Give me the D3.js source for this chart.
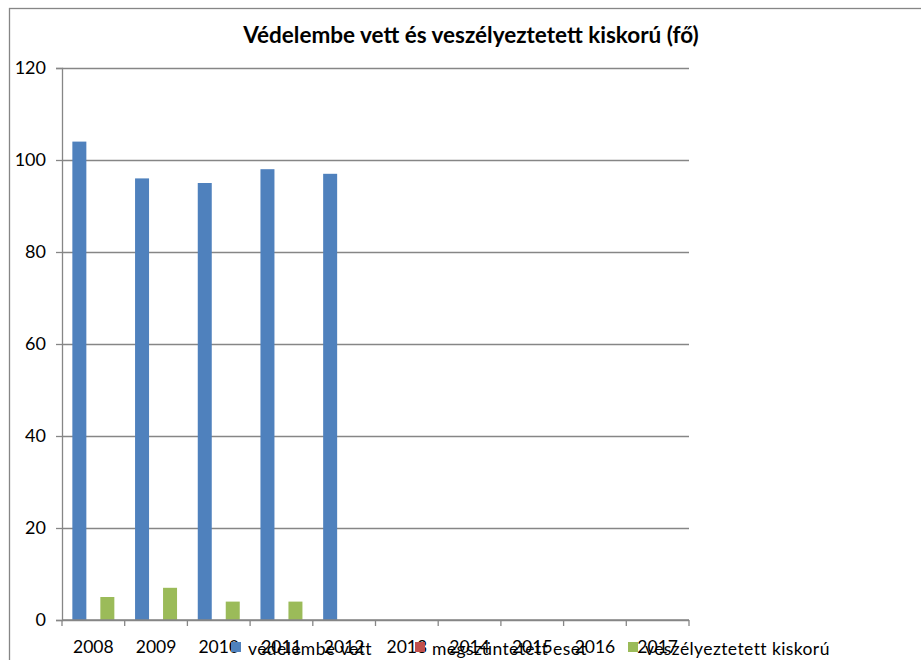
<!DOCTYPE html>
<html>
<head>
<meta charset="utf-8">
<script src="https://cdn.jsdelivr.net/npm/d3@7"></script>
<style>
  body { margin: 0; background: #fff; }
  text { font-family: Lato, "Open Sans", sans-serif; fill: #000; }
  .grid line { stroke: #868686; stroke-width: 1.3; }
  .axis path, .axis line { stroke: #868686; stroke-width: 1.3; }
</style>
</head>
<body>
<div id="chart"></div>
<script>
const years = ["2008","2009","2010","2011","2012","2013","2014","2015","2016","2017"];
const seriesNames = ["védelembe vett", "megszüntetett eset", "veszélyeztetett kiskorú"];
const vedelembe = [104, 96, 95, 98, 97, null, null, null, null, null];
const megszuntetett = [0, 0, 0, 0, 0, null, null, null, null, null];
const veszelyeztetett = [5, 7, 4, 4, null, null, null, null, null, null];
const colors = ["#4f81bd", "#c0504d", "#9bbb59"];
const yTicks = [0, 20, 40, 60, 80, 100, 120];

const svgWidth = 921, svgHeight = 660;
const margin = {top: 68, right: 232, bottom: 40, left: 62};
const width = svgWidth - margin.left - margin.right;
const height = svgHeight - margin.top - margin.bottom;

const svg = d3.select("#chart").append("svg")
    .attr("width", svgWidth)
    .attr("height", svgHeight);

// outer chart border
svg.append("rect")
    .attr("x", 9.5).attr("y", 8.5)
    .attr("width", 930).attr("height", 680)
    .attr("fill", "none")
    .attr("stroke", "#868686")
    .attr("stroke-width", 1.3);

svg.append("text")
    .attr("x", 471).attr("y", 43)
    .attr("text-anchor", "middle")
    .attr("font-size", 22.5)
    .attr("font-weight", "bold")
    .text("Védelembe vett és veszélyeztetett kiskorú (fő)");

const g = svg.append("g")
    .attr("transform", "translate(" + margin.left + "," + margin.top + ")");

const x = d3.scaleBand().domain(years).range([0, width]);
const xSub = d3.scaleBand().domain(d3.range(3)).range([0, x.bandwidth()]).paddingOuter(0.74);
const y = d3.scaleLinear().domain([0, 120]).range([height, 0]);

// gridlines
g.append("g").attr("class", "grid")
    .call(d3.axisLeft(y).tickValues(yTicks).tickSize(-width).tickFormat(""))
    .call(s => s.select(".domain").remove());

// bars
const data = [vedelembe, megszuntetett, veszelyeztetett];
data.forEach((vals, si) => {
  g.append("g").selectAll("rect")
    .data(years.map((yr, i) => ({yr: yr, v: vals[i]})).filter(d => d.v != null && d.v > 0))
    .join("rect")
      .attr("x", d => x(d.yr) + xSub(si))
      .attr("width", xSub.bandwidth())
      .attr("y", d => y(d.v))
      .attr("height", d => y(0) - y(d.v))
      .attr("fill", colors[si]);
});

// y axis
const yAxis = g.append("g").attr("class", "axis")
    .call(d3.axisLeft(y).tickValues(yTicks).tickSize(6).tickPadding(10));
yAxis.selectAll("text").attr("font-size", 18);

// x axis
const xAxis = g.append("g").attr("class", "axis")
    .attr("transform", "translate(0," + height + ")")
    .call(d3.axisBottom(x).tickSize(0).tickPadding(21));
xAxis.select(".domain").attr("d", "M0,0H" + width);
xAxis.selectAll("text").attr("font-size", 17.5);
xAxis.append("g").selectAll("line")
    .data(years.concat([null]))
    .join("line")
      .attr("x1", (d, i) => i * x.step())
      .attr("x2", (d, i) => i * x.step())
      .attr("y1", 0).attr("y2", 6)
      .attr("stroke", "#868686").attr("stroke-width", 1.3);

// legend
const legendX = [231, 415, 628];
const legend = svg.append("g");
seriesNames.forEach((name, i) => {
  legend.append("rect")
      .attr("x", legendX[i]).attr("y", 642)
      .attr("width", 10).attr("height", 10)
      .attr("fill", colors[i]);
  legend.append("text")
      .attr("x", legendX[i] + 17).attr("y", 655)
      .attr("font-size", 17.5)
      .attr("letter-spacing", 0.4)
      .text(name);
});
</script>
</body>
</html>
